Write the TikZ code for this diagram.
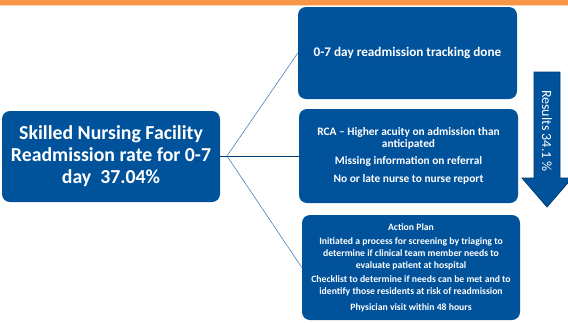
\documentclass[tikz,border=0pt]{standalone}
\usepackage{fontspec}
\setmainfont{Carlito}
\begin{document}
\definecolor{boxblue}{RGB}{0,82,155}
\definecolor{edgeblue}{RGB}{0,58,112}
\definecolor{linkblue}{RGB}{79,129,189}
\definecolor{barorange}{RGB}{247,150,70}
\begin{tikzpicture}[x=1pt,y=-1pt,
  bluebox/.style={fill=boxblue,rounded corners=8pt,text=white,font=\bfseries,
    align=center,inner sep=4pt},
  link/.style={draw=linkblue,line width=0.6pt},
  mainlink/.style={draw=edgeblue,line width=0.9pt}]
\useasboundingbox (0,0) rectangle (568,322);
\fill[white] (0,0) rectangle (568,322);
% orange rule along the top edge
\fill[barorange] (0,0) rectangle (568,4.5);
\fill[barorange!40] (0,4.5) rectangle (568,5.5);

% boxes
\node[bluebox,minimum width=218pt,minimum height=91pt,
  font=\bfseries\fontsize{19.8}{22}\selectfont] (snf) at (111,156.5)
  {Skilled Nursing Facility\\Readmission rate for 0-7\\day\ \ 37.04\%};
\node[bluebox,minimum width=219pt,minimum height=92pt,
  font=\bfseries\fontsize{13.2}{15}\selectfont] (track) at (407.5,53)
  {0-7 day readmission tracking done};
\node[bluebox,minimum width=219pt,minimum height=94pt,
  font=\bfseries\fontsize{11.4}{12.2}\selectfont] (rca) at (408.5,156)
  {RCA -- Higher acuity on admission than\\anticipated\\[5pt]
   Missing information on referral\\[5.5pt]
   No or late nurse to nurse report};
\node[bluebox,minimum width=218pt,minimum height=105pt,
  font=\bfseries\fontsize{9.7}{11.8}\selectfont] (plan) at (411,267.5)
  {Action Plan\\[2.8pt]
   Initiated a process for screening by triaging to\\
   determine if clinical team member needs to\\
   evaluate patient at hospital\\[2.8pt]
   Checklist to determine if needs can be met and to\\
   identify those residents at risk of readmission\\[3.8pt]
   Physician visit within 48 hours};

% connectors
\coordinate (hub) at (227,156);
\draw[mainlink] (snf.east |- hub) -- (hub);
\draw[mainlink] (hub) -- (rca.west);
\draw[link] (hub) -- (track.west);
\draw[link] (hub) -- (plan.west);

% result arrow
\fill[boxblue,draw=edgeblue,line width=0.8pt]
  (534,72) -- (560,72) -- (560,178) -- (572,178) -- (547,207)
  -- (522,178) -- (534,178) -- cycle;
\node[text=white,rotate=-90,font=\fontsize{14}{16}\selectfont] (res) at (547,131)
  {Results 34.1 \%};
\end{tikzpicture}
\end{document}
